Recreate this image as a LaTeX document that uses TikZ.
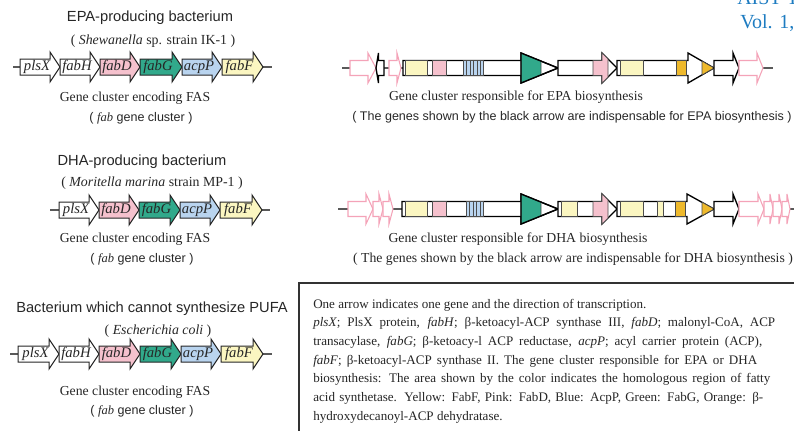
\documentclass[tikz,border=0pt]{standalone}
\usepackage{fontspec}
\setmainfont{Liberation Serif}
\setsansfont{Liberation Sans}
\usepackage{xcolor}

\definecolor{fabDpink}{HTML}{F5C1CD}
\definecolor{fabGgreen}{HTML}{31A98B}
\definecolor{acpPblue}{HTML}{B9D4EF}
\definecolor{fabFyellow}{HTML}{FBF6C1}
\definecolor{dehyorange}{HTML}{EEB92C}
\definecolor{flankpink}{HTML}{F4A3B8}
\definecolor{aistblue}{HTML}{1E7CC1}

% fab gene: name, start x, tip x, row y, fill, label
\newcommand{\fasgene}[6]{%
  \filldraw[fasarrow, fill=#5] (#2,#4-8) -- (#3-10,#4-8) -- (#3-10,#4-15) -- (#3,#4)
    -- (#3-10,#4+15) -- (#3-10,#4+8) -- (#2,#4+8) -- cycle;
  \node[genename] (#1) at ({(#2+#3)/2-3},#4) {#6};}

% gene of the PUFA cluster: start x, head x, tip x, row y, style
\newcommand{\pufagene}[5]{%
  \filldraw[#5] (#1,#4-7.5) -- (#2,#4-7.5) -- (#2,#4-15) -- (#3,#4)
    -- (#2,#4+15) -- (#2,#4+7.5) -- (#1,#4+7.5) -- cycle;}

\begin{document}
\begin{tikzpicture}[x=0.75pt,y=-0.75pt,
    backbone/.style={draw=black!65, line width=0.8pt},
    fasarrow/.style={draw=black!85, line width=0.75pt},
    genename/.style={font=\itshape\fontsize{11}{11}\selectfont, text=black!85, inner sep=0pt},
    pufa/.style={draw=black, fill=white, line width=1pt},
    flank/.style={draw=flankpink, fill=white, line width=0.8pt},
    patch/.style={draw=black!70, line width=0.5pt},
    headline/.style={font=\sffamily\fontsize{11}{13}\selectfont, text=black!85, inner sep=0pt},
    straintext/.style={font=\fontsize{10.4}{12}\selectfont, text=black!85, inner sep=0pt},
    captext/.style={font=\fontsize{10.3}{12}\selectfont, text=black!85, inner sep=0pt},
    capsans/.style={font=\sffamily\fontsize{9.4}{12}\selectfont, text=black!85, inner sep=0pt},
    notetext/.style={font=\fontsize{9.8}{12}\selectfont, text=black!85, inner sep=0pt, anchor=base west}]
\useasboundingbox (0,0) rectangle (794,430);
\clip (0,0) rectangle (794,430);

% journal header
\node[font=\fontsize{15}{15}\selectfont, text=aistblue, anchor=base west, inner sep=0pt] (jname) at (737,4) {AIST T};
\node[font=\fontsize{15}{15}\selectfont, text=aistblue, anchor=base west, inner sep=0pt] (jvol) at (740,28) {Vol. 1,};

% ---- EPA producer, fab cluster
\node[headline] (epa-title) at (150,18) {EPA-producing bacterium};
\node[straintext] (epa-strain) at (153,41) {( \textit{Shewanella} sp. strain IK-1 )};
\coordinate (epa-fw) at (13,67);
\coordinate (epa-fe) at (272,67);
\draw[backbone] (epa-fw) -- (epa-fe);
\fasgene{epa-plsX}{20}{60}{67}{white}{plsX}
\fasgene{epa-fabH}{60}{100}{67}{white}{fabH}
\fasgene{epa-fabD}{100}{140}{67}{fabDpink}{fabD}
\fasgene{epa-fabG}{140}{182}{67}{fabGgreen}{fabG}
\fasgene{epa-acpP}{182}{222}{67}{acpPblue}{acpP}
\fasgene{epa-fabF}{222}{263}{67}{fabFyellow}{fabF}
\node[captext] (epa-fas) at (135,98) {Gene cluster encoding FAS};
\node[capsans] (epa-fab) at (141,118) {( {\rmfamily\itshape fab} gene cluster )};

% ---- EPA producer, PUFA cluster
\coordinate (epa-pw) at (342,68);
\coordinate (epa-pe) at (773,68);
\draw[backbone] (epa-pw) -- (epa-pe);
\pufagene{350}{368}{376}{68}{flank}
\pufagene{384}{378.5}{376}{68}{pufa}
\pufagene{389}{397}{401}{68}{flank}
\pufagene{403}{521}{558}{68}{pufa}
\filldraw[patch, fill=fabFyellow] (405.5,60.5) rectangle (427,75.5);
\filldraw[patch, fill=fabDpink] (432,60.5) rectangle (446,75.5);
\filldraw[patch, fill=acpPblue] (463,60.5) rectangle (483,75.5);
\foreach \s in {466.5,470,...,480.5}
  \draw[patch] (\s,60.5) -- (\s,75.5);
\filldraw[patch, fill=fabGgreen] (521,53) -- (541,61.1) -- (541,74.9) -- (521,83) -- cycle;
\draw[pufa, fill=none] (521,53) -- (558,68) -- (521,83) -- cycle;
\pufagene{558}{602}{617}{68}{pufa}
\filldraw[patch, fill=fabDpink] (593,60.5) -- (602,60.5) -- (602,53) -- (608,59) -- (608,77)
  -- (602,83) -- (602,75.5) -- (593,75.5) -- cycle;
\pufagene{617}{688}{714}{68}{pufa}
\filldraw[patch, fill=fabFyellow] (620,60.5) rectangle (643,75.5);
\filldraw[patch, fill=dehyorange] (676,60.5) rectangle (686,75.5);
\filldraw[patch, fill=dehyorange] (702,61.1) -- (714,68) -- (702,74.9) -- cycle;
\pufagene{714}{733}{739}{68}{pufa}
\pufagene{739}{757}{763}{68}{flank}
\node[captext] (epa-pufa) at (516,97) {Gene cluster responsible for EPA biosynthesis};
\node[capsans] (epa-note) at (572,117) {( The genes shown by the black arrow are indispensable for EPA biosynthesis )};

% ---- DHA producer, fab cluster
\node[headline] (dha-title) at (142,162) {DHA-producing bacterium};
\node[straintext] (dha-strain) at (152,183) {( \textit{Moritella marina} strain MP-1 )};
\coordinate (dha-fw) at (50,210);
\coordinate (dha-fe) at (270,210);
\draw[backbone] (dha-fw) -- (dha-fe);
\fasgene{dha-plsX}{59}{99}{210}{white}{plsX}
\fasgene{dha-fabD}{99}{139}{210}{fabDpink}{fabD}
\fasgene{dha-fabG}{139}{180}{210}{fabGgreen}{fabG}
\fasgene{dha-acpP}{180}{220}{210}{acpPblue}{acpP}
\fasgene{dha-fabF}{220}{262}{210}{fabFyellow}{fabF}
\node[captext] (dha-fas) at (135,239) {Gene cluster encoding FAS};
\node[capsans] (dha-fab) at (142,259) {( {\rmfamily\itshape fab} gene cluster )};

% ---- DHA producer, PUFA cluster
\coordinate (dha-pw) at (338,209);
\coordinate (dha-pe) at (800,209);
\draw[backbone] (dha-pw) -- (dha-pe);
\pufagene{348}{366}{373}{209}{flank}
\pufagene{373}{379}{383}{209}{flank}
\pufagene{383}{389}{393}{209}{flank}
\pufagene{402}{521}{558}{209}{pufa}
\filldraw[patch, fill=fabFyellow] (405,201.5) rectangle (427,216.5);
\filldraw[patch, fill=fabDpink] (432,201.5) rectangle (446,216.5);
\filldraw[patch, fill=acpPblue] (466,201.5) rectangle (483,216.5);
\foreach \s in {469.5,473,...,480}
  \draw[patch] (\s,201.5) -- (\s,216.5);
\filldraw[patch, fill=fabGgreen] (521,194) -- (541,202.1) -- (541,215.9) -- (521,224) -- cycle;
\draw[pufa, fill=none] (521,194) -- (558,209) -- (521,224) -- cycle;
\pufagene{558}{602}{617}{209}{pufa}
\filldraw[patch, fill=fabFyellow] (561.5,201.5) rectangle (577,216.5);
\filldraw[patch, fill=fabDpink] (593,201.5) -- (602,201.5) -- (602,194) -- (608,200) -- (608,218)
  -- (602,224) -- (602,216.5) -- (593,216.5) -- cycle;
\pufagene{617}{687}{714}{209}{pufa}
\filldraw[patch, fill=fabFyellow] (620,201.5) rectangle (643,216.5);
\filldraw[patch, fill=fabFyellow] (657,201.5) rectangle (663,216.5);
\filldraw[patch, fill=dehyorange] (675,201.5) rectangle (685,216.5);
\filldraw[patch, fill=dehyorange] (702,202.2) -- (714,209) -- (702,215.8) -- cycle;
\pufagene{714}{733}{739}{209}{pufa}
\pufagene{739}{758}{764}{209}{flank}
\pufagene{764}{770}{773}{209}{flank}
\pufagene{773}{779}{782}{209}{flank}
\pufagene{782}{787}{790}{209}{flank}
\node[captext] (dha-pufa) at (518,239) {Gene cluster responsible for DHA biosynthesis};
\node[captext] (dha-note) at (573,259) {( The genes shown by the black arrow are indispensable for DHA biosynthesis )};

% ---- E. coli, fab cluster only
\node[headline] (eco-title) at (152,309) {Bacterium which cannot synthesize PUFA};
\node[straintext] (eco-strain) at (158,331) {( \textit{Escherichia coli} )};
\coordinate (eco-fw) at (10,354);
\coordinate (eco-fe) at (272,354);
\draw[backbone] (eco-fw) -- (eco-fe);
\fasgene{eco-plsX}{18}{59}{354}{white}{plsX}
\fasgene{eco-fabH}{59}{99}{354}{white}{fabH}
\fasgene{eco-fabD}{99}{140}{354}{fabDpink}{fabD}
\fasgene{eco-fabG}{140}{181}{354}{fabGgreen}{fabG}
\fasgene{eco-acpP}{181}{221}{354}{acpPblue}{acpP}
\fasgene{eco-fabF}{221}{263}{354}{fabFyellow}{fabF}
\node[captext] (eco-fas) at (135,392) {Gene cluster encoding FAS};
\node[capsans] (eco-fab) at (142,411) {( {\rmfamily\itshape fab} gene cluster )};

% ---- legend box (justified lines)
\draw[draw=black!80, line width=0.8pt] (299,283) rectangle (805,440);
\node[notetext] (note1) at (313,308) {One arrow indicates one gene and the direction of transcription.};
\node[notetext] (note2) at (313,326.7) {\makebox[346.5pt][s]{\textit{plsX}; PlsX protein, \textit{fabH}; β-ketoacyl-ACP synthase III, \textit{fabD}; malonyl-CoA, ACP}};
\node[notetext] (note3) at (313,345.4) {\makebox[336.8pt][s]{transacylase, \textit{fabG}; β-ketoacy-l ACP reductase, \textit{acpP}; acyl carrier protein (ACP),}};
\node[notetext] (note4) at (313,364.1) {\makebox[333pt][s]{\textit{fabF}; β-ketoacyl-ACP synthase II. The gene cluster responsible for EPA or DHA}};
\node[notetext] (note5) at (313,382.8) {\makebox[342.8pt][s]{biosynthesis: The area shown by the color indicates the homologous region of fatty}};
\node[notetext] (note6) at (313,401.5) {\makebox[337.5pt][s]{acid synthetase. Yellow: FabF, Pink: FabD, Blue: AcpP, Green: FabG, Orange: β-}};
\node[notetext] (note7) at (313,420.2) {hydroxydecanoyl-ACP dehydratase.};
\end{tikzpicture}
\end{document}
